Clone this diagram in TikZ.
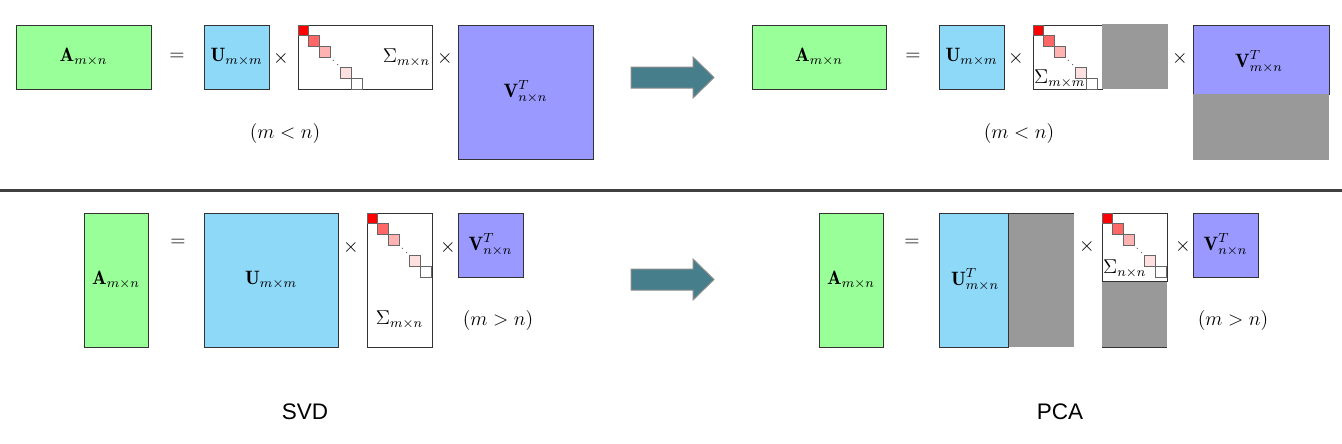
\documentclass[tikz,border=0pt]{standalone}
\usepackage{fontspec}
\newfontfamily\namefont{Liberation Sans}
\usepackage{tikz}

\definecolor{matA}{HTML}{99FF99}
\definecolor{matU}{HTML}{8ED8F8}
\definecolor{matV}{HTML}{9999FF}
\definecolor{cutgray}{HTML}{999999}
\definecolor{arrowteal}{HTML}{467F8B}

\newcommand{\sigmadiag}[2]{%
	\foreach \k/\col in {0/red,1/red!60,2/red!30,4/red!12,5/white}
		\filldraw [fill=\col, draw=black!60, line width=0.6pt] (#1+\k*10.7, #2+\k*10.7) rectangle ++(10.7, 10.7);
	\fill [black!60] (#1+3.3*10.7, #2+3.3*10.7) circle (0.7) (#1+3.7*10.7, #2+3.7*10.7) circle (0.7);
}

\begin{document}
\begin{tikzpicture}[x=0.6pt, y=-0.6pt,
	every node/.style={font=\fontsize{11.6}{14}\selectfont},
	mat/.style={draw=black!80, line width=0.6pt},
	bigarrow/.style={fill=arrowteal, draw=black!45, line width=0.6pt},
	methodname/.style={font=\namefont\fontsize{13.5}{16}\selectfont}]
	\useasboundingbox (0, 0) rectangle (1342, 443);
	\filldraw [mat, fill=matA] (16, 25) rectangle (151, 89);
	\node (a1) at (83.5, 57) {$\mathbf{A}_{m\times n}$};
	\node (eq1) at (177, 57) {$=$};
	\filldraw [mat, fill=matU] (204, 25) rectangle (269, 89);
	\node (u1) at (236.5, 57) {$\mathbf{U}_{m\times m}$};
	\node (x1) at (281, 58) {$\times$};
	\draw [mat, fill=white] (298, 25) rectangle (432, 89);
	\sigmadiag{298}{25}
	\node [anchor=east, inner sep=1pt] (s1) at (432, 58) {$\Sigma_{m\times n}$};
	\node (x2) at (445, 58) {$\times$};
	\filldraw [mat, fill=matV] (458, 25) rectangle (593, 159);
	\node (v1) at (525.5, 92) {$\mathbf{V}^T_{n\times n}$};
	\node (c1) at (285, 133) {$(m<n)$};

	\foreach \dy in {0, 202}
		\filldraw [bigarrow] (631, 67+\dy) -- (693, 67+\dy) -- (693, 57+\dy) -- (714, 77.5+\dy) -- (693, 98+\dy) -- (693, 88+\dy) -- (631, 88+\dy) -- cycle;

	\filldraw [mat, fill=matA] (752, 25) rectangle (886, 89);
	\node (a2) at (819, 57) {$\mathbf{A}_{m\times n}$};
	\node (eq2) at (913, 57) {$=$};
	\filldraw [mat, fill=matU] (939, 25) rectangle (1004, 89);
	\node (u2) at (971.5, 57) {$\mathbf{U}_{m\times m}$};
	\node (x3) at (1016, 58) {$\times$};
	\draw [mat, fill=white] (1033, 25) rectangle (1102, 89);
	\sigmadiag{1033}{25}
	\fill [cutgray] (1102, 24) rectangle (1168, 89);
	\node [anchor=south west, inner sep=0.5pt] (s2) at (1033, 89) {$\Sigma_{m\times m}$};
	\node (x4) at (1180, 58) {$\times$};
	\filldraw [mat, fill=matV] (1193, 25) rectangle (1329, 94);
	\fill [cutgray] (1193, 94) rectangle (1329, 160);
	\node (v2) at (1259, 62) {$\mathbf{V}^T_{m\times n}$};
	\node (c2) at (1019, 133) {$(m<n)$};

	\draw [black!75, line width=1.8pt] (0, 190.5) -- (1342, 190.5);

	\filldraw [mat, fill=matA] (84, 213) rectangle (148, 347);
	\node (a3) at (116, 280) {$\mathbf{A}_{m\times n}$};
	\node (eq3) at (178, 243) {$=$};
	\filldraw [mat, fill=matU] (204, 213) rectangle (338, 347);
	\node (u3) at (271, 280) {$\mathbf{U}_{m\times m}$};
	\node (x5) at (351, 247) {$\times$};
	\draw [mat, fill=white] (367, 213) rectangle (432, 347);
	\sigmadiag{367}{213}
	\node (s3) at (399.5, 320) {$\Sigma_{m\times n}$};
	\node (x6) at (448, 247) {$\times$};
	\filldraw [mat, fill=matV] (458, 213) rectangle (523, 277);
	\node (v3) at (490.5, 245) {$\mathbf{V}^T_{n\times n}$};
	\node (c3) at (498, 320) {$(m>n)$};

	\filldraw [mat, fill=matA] (819, 213) rectangle (883, 347);
	\node (a4) at (851, 280) {$\mathbf{A}_{m\times n}$};
	\node (eq4) at (912, 243) {$=$};
	\fill [cutgray] (1008, 213) rectangle (1074, 347);
	\draw [mat] (1008, 213) -- (1074, 213);
	\filldraw [mat, fill=matU] (939, 213) rectangle (1008, 347);
	\node (u4) at (975, 280) {$\mathbf{U}^T_{m\times n}$};
	\node (x7) at (1087, 246) {$\times$};
	\fill [cutgray] (1102, 281) rectangle (1167, 347);
	\draw [mat] (1102, 347) -- (1167, 347);
	\draw [mat, fill=white] (1102, 213) rectangle (1167, 281);
	\sigmadiag{1102}{213}
	\node [anchor=south west, inner sep=0.5pt] (s4) at (1102, 279) {$\Sigma_{n\times n}$};
	\node (x8) at (1183, 246) {$\times$};
	\filldraw [mat, fill=matV] (1193, 213) rectangle (1258, 277);
	\node (v4) at (1225.5, 245) {$\mathbf{V}^T_{n\times n}$};
	\node (c4) at (1233, 320) {$(m>n)$};

	\node [methodname] (svd) at (305, 412) {SVD};
	\node [methodname] (pca) at (1060, 412) {PCA};
\end{tikzpicture}
\end{document}
